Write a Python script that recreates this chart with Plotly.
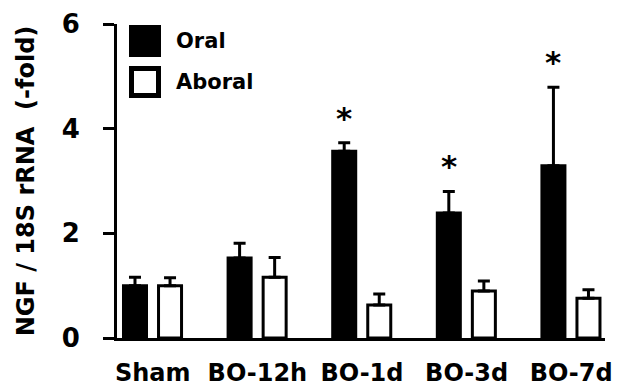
import plotly.graph_objects as go

# NGF / 18S rRNA expression (-fold), mean and upper SEM
categories = ["Sham", "BO-12h", "BO-1d", "BO-3d", "BO-7d"]
oral_mean = [1.00, 1.53, 3.57, 2.39, 3.29]
oral_sem = [0.16, 0.28, 0.16, 0.41, 1.50]
aboral_mean = [1.00, 1.16, 0.63, 0.90, 0.76]
aboral_sem = [0.15, 0.38, 0.21, 0.19, 0.16]
significant = [False, False, True, True, True]  # oral vs sham
y_ticks = [0, 2, 4, 6]

FONT = "DejaVu Sans"
W, H = 620, 391
ML, MR, MT, MB = 117, 15, 24, 53

xpos = list(range(len(categories)))
bar_w = 0.22
oral_off = -0.28
aboral_off = 0.055

fig = go.Figure()

fig.add_trace(go.Bar(
    x=xpos, y=oral_mean, name="Oral",
    width=bar_w, offset=oral_off,
    marker=dict(color="black", line=dict(color="black", width=3)),
    error_y=dict(type="data", array=oral_sem, arrayminus=[0] * len(oral_sem),
                 symmetric=False, color="black", thickness=3, width=6),
    showlegend=False,
))
fig.add_trace(go.Bar(
    x=xpos, y=aboral_mean, name="Aboral",
    width=bar_w, offset=aboral_off,
    marker=dict(color="white", line=dict(color="black", width=3)),
    error_y=dict(type="data", array=aboral_sem, arrayminus=[0] * len(aboral_sem),
                 symmetric=False, color="black", thickness=3, width=6),
    showlegend=False,
))

# significance asterisks above the oral bars
for i, sig in enumerate(significant):
    if sig:
        fig.add_annotation(
            x=i + oral_off + bar_w / 2, y=oral_mean[i] + oral_sem[i],
            xref="x", yref="y", text="*", showarrow=False,
            yanchor="bottom", yshift=5,
            font=dict(family=FONT, size=31, color="black", weight="bold"),
        )

# legend drawn as boxes + labels in the upper-left corner
def px_x(p):
    return (p - ML) / (W - ML - MR)

def px_y(p):
    return 1 - (p - MT) / (H - MT - MB)

legend_items = [("Oral", "black", 25), ("Aboral", "white", 66)]
for label, fill, top in legend_items:
    fig.add_shape(
        type="rect", xref="paper", yref="paper",
        x0=px_x(131.5), x1=px_x(158.5), y0=px_y(top + 2.5), y1=px_y(top + 29.5),
        fillcolor=fill, line=dict(color="black", width=5),
    )
    fig.add_annotation(
        xref="paper", yref="paper", x=px_x(174), y=px_y(top + 16),
        xanchor="left", yanchor="middle", text=label, showarrow=False,
        font=dict(family=FONT, size=21, color="black", weight="bold"),
    )

fig.update_layout(
    width=W, height=H,
    margin=dict(l=ML, r=MR, t=MT, b=MB, pad=0, autoexpand=False),
    paper_bgcolor="white", plot_bgcolor="white",
    barmode="overlay",
    font=dict(family=FONT, color="black"),
)
fig.update_xaxes(
    range=[-0.342, 4.323], automargin=False,
    tickvals=xpos, ticktext=categories,
    tickfont=dict(family=FONT, size=24, color="black", weight="bold"),
    ticks="", showgrid=False, zeroline=False,
    showline=True, linecolor="black", linewidth=3,
    ticklabelstandoff=11,
)
fig.update_yaxes(
    range=[0, 6], tickvals=y_ticks, automargin=False,
    tickfont=dict(family=FONT, size=26, color="black", weight="bold"),
    ticks="outside", ticklen=11, tickwidth=3, tickcolor="black",
    showgrid=False, zeroline=False,
    showline=True, linecolor="black", linewidth=3,
    ticklabelstandoff=18,
    title=dict(text="NGF / 18S rRNA  (-fold)", standoff=21,
               font=dict(family=FONT, size=24, color="black", weight="bold")),
)

fig.write_html("out.html")
